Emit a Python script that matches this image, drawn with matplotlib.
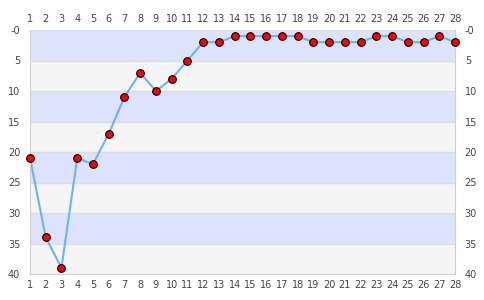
import matplotlib
matplotlib.use("Agg")
import matplotlib.pyplot as plt

days = list(range(1, 29))
ranks = [21, 34, 39, 21, 22, 17, 11, 7, 10, 8, 5, 2, 2, 1, 1, 1, 1, 1, 2, 2, 2, 2, 1, 1, 2, 2, 1, 2]
y_ticks = [0, 5, 10, 15, 20, 25, 30, 35, 40]
y_labels = ["-0", "5", "10", "15", "20", "25", "30", "35", "40"]

fig = plt.figure(figsize=(4.85, 3.0), dpi=100)
ax = fig.add_axes([30/485, 26/300, 425/485, 244/300])

for i in range(8):
    c = "#dde3fd" if i % 2 == 0 else "#f5f5f5"
    ax.axhspan(i*5, i*5+5, color=c, lw=0, zorder=0)
for v in y_ticks[1:-1]:
    ax.axhline(v, color="#dddddd", lw=1, zorder=1)

ax.plot(days, ranks, color="#6eb1f5", lw=1.5, zorder=2)
ax.plot(days, ranks, ls="none", marker="o", ms=5.5, mfc="#ff0000", mec="#000000", mew=0.8, zorder=3, clip_on=False)

ax.set_xlim(1, 28)
ax.set_ylim(40, 0)
ax.set_yticks(y_ticks)
ax.set_yticklabels(y_labels)
ax.set_xticks(days)
ax.tick_params(axis="both", length=0, labelsize=7, colors="#444444", pad=5)
ax.tick_params(axis="x", labeltop=True, labelbottom=True, pad=4)
ax.tick_params(axis="y", labelleft=True, labelright=True, pad=7)
for s in ["left", "bottom", "right"]:
    ax.spines[s].set_color("#d0d0d0")
ax.spines["top"].set_visible(False)

fig.savefig("out.png", dpi=100)
